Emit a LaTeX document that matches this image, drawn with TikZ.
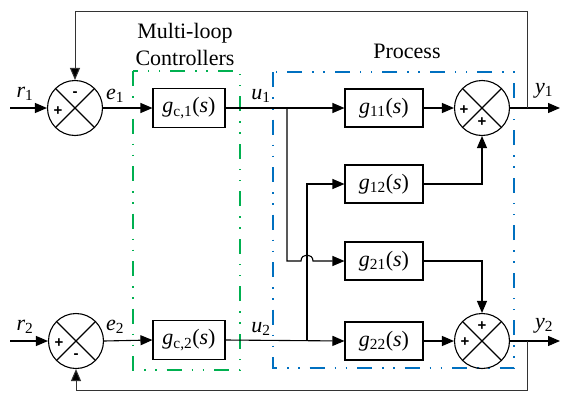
\documentclass[tikz,border=0pt]{standalone}
\usepackage{fontspec}
\newfontfamily\labelfont{Liberation Serif}
\newfontfamily\signfont{Liberation Sans}
\usetikzlibrary{arrows.meta}
\definecolor{ctlgreen}{RGB}{0,176,80}
\definecolor{procblue}{RGB}{0,112,192}
\begin{document}
\begin{tikzpicture}[x=1pt,y=-1pt,
  font=\labelfont\fontsize{22}{26}\selectfont,
  wire/.style={line width=1.1pt},
  arr/.style={wire,-{Triangle[length=12pt,width=10pt]}},
  fb/.style={line width=1pt,draw=black!80},
  fbarr/.style={fb,-{Triangle[length=12pt,width=10pt,fill=black]}},
  blkc/.style={draw,line width=1.1pt,minimum width=72pt,minimum height=39pt,inner sep=0pt},
  blkp/.style={draw,line width=1.1pt,minimum width=78pt,minimum height=38pt,inner sep=0pt},
  sumnode/.style={draw,circle,line width=1.1pt,minimum size=55pt,inner sep=0pt,
    path picture={\draw[line width=1.1pt]
      (path picture bounding box.north west) -- (path picture bounding box.south east)
      (path picture bounding box.north east) -- (path picture bounding box.south west);}},
  sig/.style={font=\signfont\bfseries\fontsize{15}{15}\selectfont,inner sep=0pt},
  lbl/.style={inner sep=0pt},
  dashbox/.style={line width=1.6pt,
    dash pattern=on 15pt off 10pt on 1.5pt off 9.5pt on 1.5pt off 10pt}
]
\useasboundingbox (0,0) rectangle (563,394);

% dash-dot frames
\draw[dashbox,draw=ctlgreen] (133,71) rectangle (240,370);
\draw[dashbox,draw=procblue] (273,72) rectangle (514,368);

% titles
\node[lbl,anchor=base] (t1) at (185,38) {Multi-loop};
\node[lbl,anchor=base] (t2) at (185,65) {Controllers};
\node[lbl,anchor=base] (t3) at (407,58) {Process};

% summing junctions
\node[sumnode] (s1) at (75,108) {};
\node[sumnode] (s2) at (76,341) {};
\node[sumnode] (s11) at (482,108) {};
\node[sumnode] (s22) at (482,341) {};

\node[sig] (s1m) at (75,94) {-};
\node[sig] (s1p) at (58,111) {+};
\node[sig] (s2p) at (59,343) {+};
\node[sig] (s2m) at (76,356) {-};
\node[sig] (s11a) at (464,110) {+};
\node[sig] (s11b) at (482,122) {+};
\node[sig] (s22a) at (482,326) {+};
\node[sig] (s22b) at (465,342) {+};

% controller blocks
\node[blkc] (gc1) at (189,108) {\textit{g}\textsubscript{c,1}(\textit{s})};
\node[blkc] (gc2) at (189,340) {\textit{g}\textsubscript{c,2}(\textit{s})};

% process blocks
\node[blkp] (g11) at (384,108) {\textit{g}\textsubscript{11}(\textit{s})};
\node[blkp] (g12) at (384,184) {\textit{g}\textsubscript{12}(\textit{s})};
\node[blkp] (g21) at (384,261) {\textit{g}\textsubscript{21}(\textit{s})};
\node[blkp] (g22) at (384,341) {\textit{g}\textsubscript{22}(\textit{s})};

% signal labels
\node[lbl] (lr1) at (25,94) {\textit{r}\textsubscript{1}};
\node[lbl] (lr2) at (25,327) {\textit{r}\textsubscript{2}};
\node[lbl] (le1) at (115,96) {\textit{e}\textsubscript{1}};
\node[lbl] (le2) at (115,327) {\textit{e}\textsubscript{2}};
\node[lbl] (lu1) at (261,96) {\textit{u}\textsubscript{1}};
\node[lbl] (lu2) at (261,329) {\textit{u}\textsubscript{2}};
\node[lbl] (ly1) at (544,91) {\textit{y}\textsubscript{1}};
\node[lbl] (ly2) at (544,326) {\textit{y}\textsubscript{2}};

% free ends and branch points
\coordinate (r1in) at (10,108);
\coordinate (r2in) at (10,341);
\coordinate (y1out) at (560,108);
\coordinate (y2out) at (560,341);
\coordinate (u1j) at (287,108);
\coordinate (u2j) at (307,341);
\coordinate (hopL) at (301,261);
\coordinate (hopR) at (313,261);
\coordinate (y1j) at (527,108);
\coordinate (y2j) at (527,341);
\coordinate (top1) at (527,11);
\coordinate (bot2) at (527,390);

% forward paths
\draw[arr] (r1in) -- (s1.west);
\draw[arr] (r2in) -- (s2.west);
\draw[arr] (s1.east) -- (gc1.west);
\draw[arr] (s2.east) -- (gc2.west);
\draw[arr] (gc1.east) -- (g11.west);
\draw[arr] (gc2.east) -- (g22.west);
\draw[arr] (g11.east) -- (s11.west);
\draw[arr] (g22.east) -- (s22.west);
\draw[arr] (s11.east) -- (y1out);
\draw[arr] (s22.east) -- (y2out);

% cross couplings
\draw[arr] (u2j) |- (g12.west);
\draw[arr] (u1j) |- (hopL) .. controls (301,253) and (313,253) .. (hopR) -- (g21.west);
\draw[arr] (g12.east) -| (s11.south);
\draw[arr] (g21.east) -| (s22.north);

% feedback loops
\draw[fbarr] (y1j) -- (top1) -| (s1.north);
\draw[fbarr] (y2j) -- (bot2) -| (s2.south);
\end{tikzpicture}
\end{document}
